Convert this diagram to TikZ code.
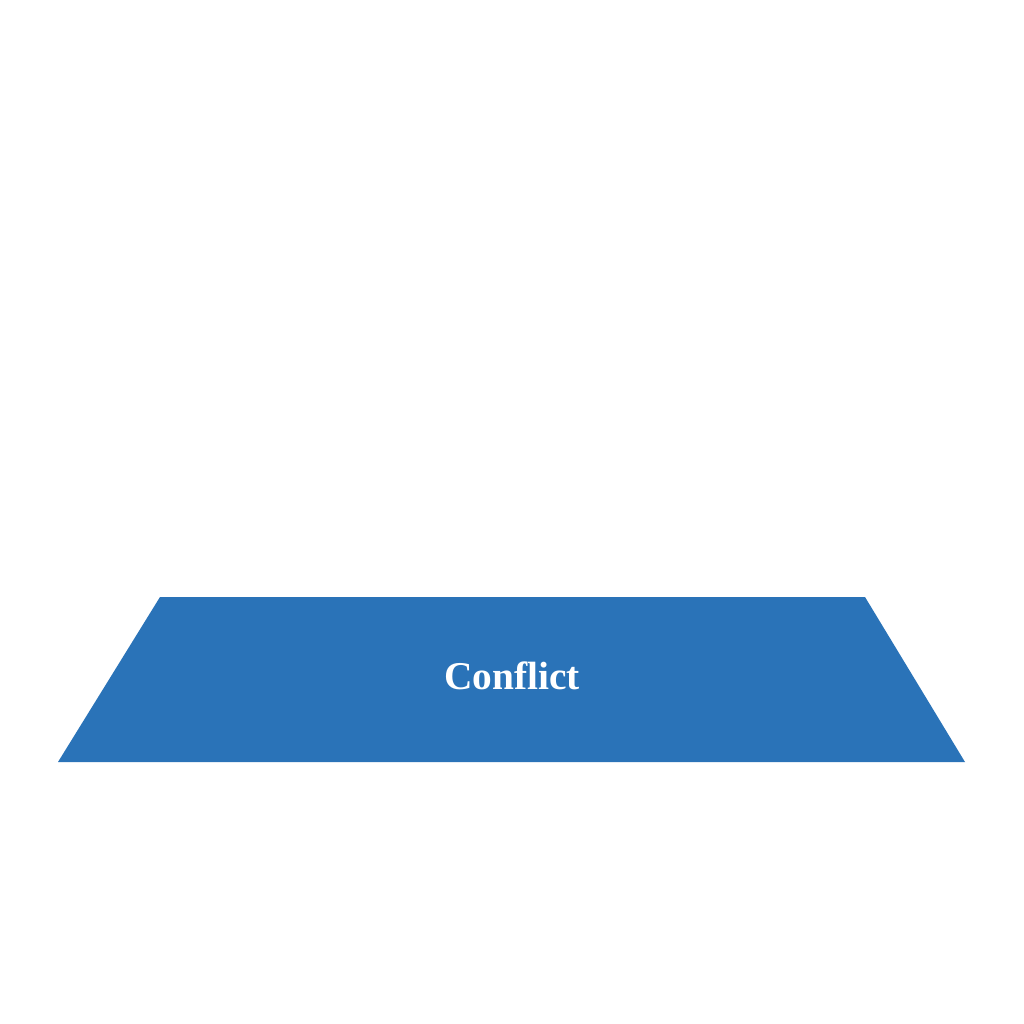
\documentclass[tikz,border=0pt]{standalone}
\usepackage{fontspec}
\setmainfont{Liberation Serif}
\definecolor{layerblue}{RGB}{42,115,184}
\begin{document}
\begin{tikzpicture}[x=0.01cm,y=-0.01cm]
		\tikzstyle{layer}=[fill=layerblue]
		\tikzstyle{layertext}=[text=white,font=\fontsize{11.2}{13}\selectfont\bfseries,inner sep=0pt]
		\useasboundingbox (0,0) rectangle (1024,1024);
		\fill[white] (0,0) rectangle (1024,1024);

		\fill[layer] (160,597) -- (865,597) -- (965,762) -- (58,762) -- cycle;
		\node[layertext] (conflict) at (512,676) {Conflict};
	\end{tikzpicture}
\end{document}
